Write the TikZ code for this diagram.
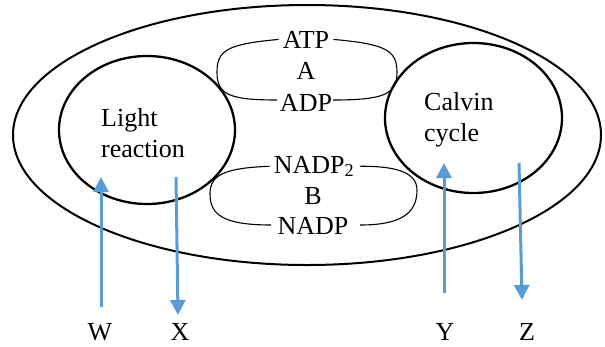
\documentclass[tikz,border=0pt]{standalone}
\usepackage{fontspec}
\setmainfont{Liberation Serif}
\usetikzlibrary{arrows.meta,shapes.geometric}
\definecolor{arrblue}{HTML}{5B9BD5}
\begin{document}
\begin{tikzpicture}[x=1pt,y=-1pt,
  lbl/.style={font=\fontsize{26}{31}\selectfont, inner sep=0pt},
  ring/.style={draw, line width=2.3pt, ellipse, inner sep=0pt},
  brace/.style={draw, line width=1.1pt},
  arr/.style={draw=arrblue, line width=3pt, -{Triangle[length=15pt,width=15pt]}}]
\useasboundingbox (0,0) rectangle (605,346);
% outer ellipse and circles
\node[ring, line width=2pt, minimum width=588pt, minimum height=260pt] (outer) at (307,135) {};
\node[ring, minimum width=176pt, minimum height=148pt] (light) at (147,130) {};
\node[ring, minimum width=177pt, minimum height=150pt] (calvin) at (473.5,118) {};
% circle labels
\node[lbl, anchor=base west] (l1) at (101,126) {Light};
\node[lbl, anchor=base west] (l2) at (101,157) {reaction};
\node[lbl, anchor=base west] (c1) at (424,110) {Calvin};
\node[lbl, anchor=base west] (c2) at (424,141) {cycle};
% ATP group
\node[lbl, anchor=base] (atp) at (306,48) {ATP};
\node[lbl, anchor=base] (a) at (306,79) {A};
\node[lbl, anchor=base] (adp) at (306,111) {ADP};
\draw[brace] (atp.west) ++(-4,0) coordinate (atpL)
  .. controls (228,44) and (217,50) .. (217,72)
  .. controls (217,94) and (228,100) .. (277,100) coordinate (adpL);
\draw[brace] (atp.east) ++(4,0) coordinate (atpR)
  .. controls (385,44) and (397,50) .. (397,72)
  .. controls (397,94) and (385,100) .. (333,100) coordinate (adpR);
% NADP group
\node[lbl, anchor=base] (nadp2) at (314,173) {NADP\textsubscript{2}};
\node[lbl, anchor=base] (b) at (313,204) {B};
\node[lbl, anchor=base] (nadp) at (313,234) {NADP};
\draw[brace] (nadp2.west) ++(-4,0) coordinate (n2L)
  .. controls (222,168) and (210,176) .. (210,194)
  .. controls (210,214) and (222,225) .. (271,225) coordinate (nL);
\draw[brace] (nadp2.east) ++(6,0) coordinate (n2R)
  .. controls (395,166) and (417,172) .. (417,190)
  .. controls (417,214) and (400,225) .. (360,225) coordinate (nR);
% bottom labels
\node[lbl, anchor=base] (w) at (100,340) {W};
\node[lbl, anchor=base] (x) at (180,340) {X};
\node[lbl, anchor=base] (y) at (445,340) {Y};
\node[lbl, anchor=base] (z) at (527,340) {Z};
% arrows
\coordinate (wS) at (101,307);
\coordinate (wT) at (101,177);
\coordinate (xS) at (176,177);
\coordinate (xT) at (178,315);
\coordinate (yS) at (444,293);
\coordinate (yT) at (444,163);
\coordinate (zS) at (519,163);
\coordinate (zT) at (522,300);
\draw[arr] (wS) -- (wT);
\draw[arr] (xS) -- (xT);
\draw[arr] (yS) -- (yT);
\draw[arr] (zS) -- (zT);
\end{tikzpicture}
\end{document}
